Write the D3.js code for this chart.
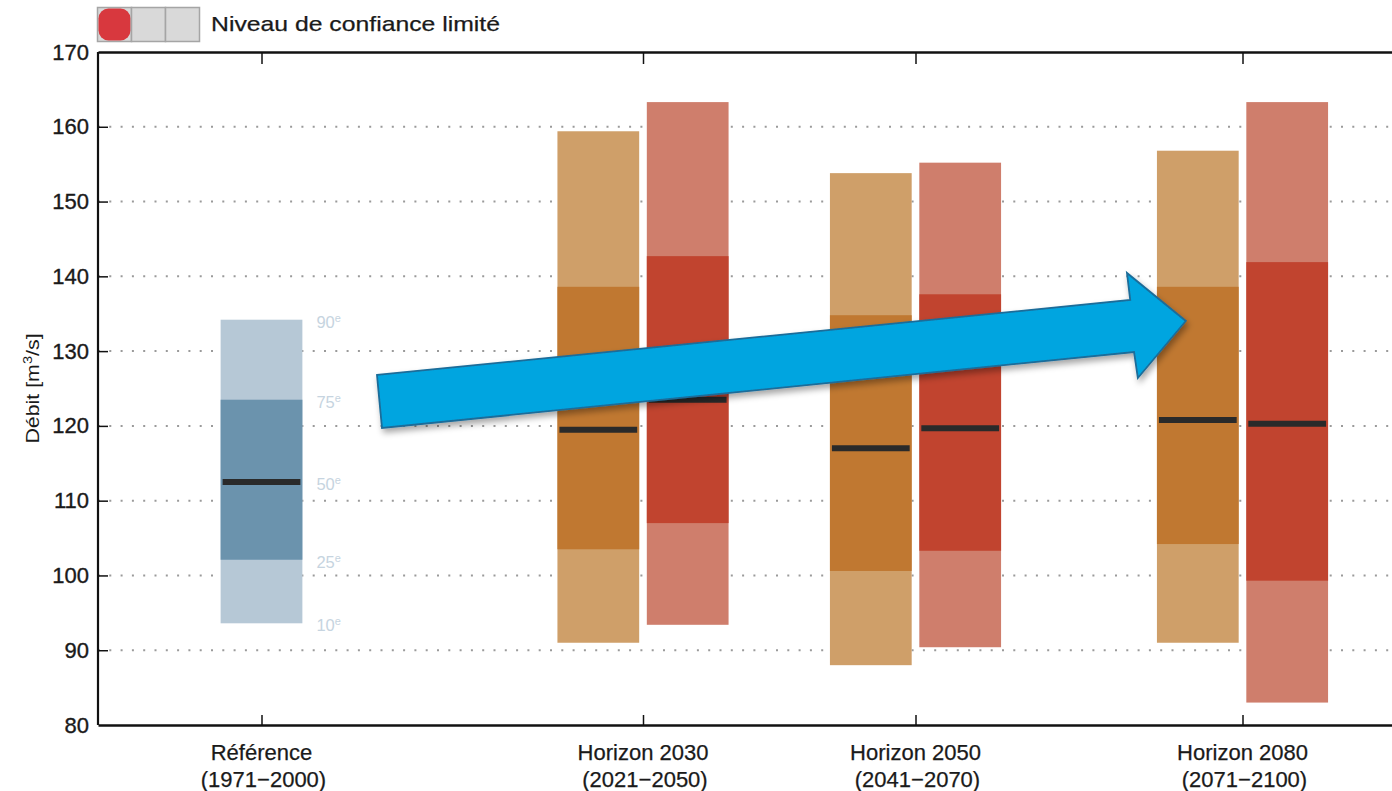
<!DOCTYPE html>
<html lang="fr">
<head>
<meta charset="utf-8">
<script src="https://cdn.jsdelivr.net/npm/d3@7"></script>
<style>
  html, body { margin: 0; padding: 0; background: #ffffff; }
  svg { display: block; font-family: "Liberation Sans", Arial, Helvetica, sans-serif; }
</style>
</head>
<body>
<svg id="chart" width="1392" height="791"></svg>
<script>
// Categories along the x axis and their positions (x units)
const categories = ["Référence", "Horizon 2030", "Horizon 2050", "Horizon 2080"];
const periods = ["(1971−2000)", "(2021−2050)", "(2041−2070)", "(2071−2100)"];
const positions = [3, 10, 15, 21];

// Percentiles: 10e, 25e, 50e, 75e, 90e (débit, m³/s)
const percentileNames = ["10", "25", "50", "75", "90"];
const reference = [93.6, 102.1, 112.5, 123.5, 134.2];
const scenarioOrange = [
  [91.0, 103.5, 119.5, 138.6, 159.4],
  [88.0, 100.6, 117.0, 134.8, 153.8],
  [91.0, 104.2, 120.8, 138.6, 156.8]
];
const scenarioRed = [
  [93.4, 107.0, 123.5, 142.7, 163.3],
  [90.4, 103.3, 119.7, 137.6, 155.2],
  [83.0, 99.3, 120.3, 141.9, 163.3]
];

// Axis ticks
const yTicks = [80, 90, 100, 110, 120, 130, 140, 150, 160, 170];
const gridTicks = [90, 100, 110, 120, 130, 140, 150, 160];

// Confidence indicator
const confidenceLabel = "Niveau de confiance limité";
const confidenceLevel = 1;
const confidenceSteps = 3;

// Trend arrow outline, in (x units, débit) coordinates
const trendArrow = [
  [5.119, 126.81], [18.94, 136.84], [18.88, 140.45], [19.96, 134.03],
  [19.08, 126.41], [19.01, 129.88], [5.211, 119.72]
];

const svg = d3.select("#chart");

const x = d3.scaleLinear().domain([0, 24]).range([98, 98 + 24 * 54.5]);
const y = d3.scaleLinear().domain([80, 170]).range([725, 52]);

const barHalf = 0.75;   // half bar width in x units
const pairOffset = 0.82; // offset of paired bars from the category tick
const textColor = "#1a1a1a";

const colors = {
  ref: { outer: "#b6c8d6", inner: "#6b93ad" },
  orange: { outer: "#cf9f69", inner: "#c07831" },
  red: { outer: "#cf7e6c", inner: "#c1442f" }
};

const defs = svg.append("defs");
const shadow = defs.append("filter").attr("id", "arrowShadow")
  .attr("x", "-10%").attr("y", "-30%").attr("width", "120%").attr("height", "180%");
shadow.append("feDropShadow")
  .attr("dx", 2).attr("dy", 4).attr("stdDeviation", 3)
  .attr("flood-color", "#000").attr("flood-opacity", 0.35);

// Dotted grid
svg.append("g").selectAll("line").data(gridTicks).join("line")
  .attr("x1", x(0)).attr("x2", x(24))
  .attr("y1", d => y(d)).attr("y2", d => y(d))
  .attr("stroke", "#9a9a9a").attr("stroke-width", 2)
  .attr("stroke-dasharray", "2,9.3").attr("stroke-linecap", "butt");

// Box for one distribution: outer (10-90), inner (25-75), median line
function drawBox(g, cx, p, palette) {
  const x0 = x(cx - barHalf), x1 = x(cx + barHalf);
  g.append("rect")
    .attr("x", x0).attr("width", x1 - x0)
    .attr("y", y(p[4])).attr("height", y(p[0]) - y(p[4]))
    .attr("fill", palette.outer);
  g.append("rect")
    .attr("x", x0).attr("width", x1 - x0)
    .attr("y", y(p[3])).attr("height", y(p[1]) - y(p[3]))
    .attr("fill", palette.inner);
  g.append("line")
    .attr("x1", x0 + 2).attr("x2", x1 - 2)
    .attr("y1", y(p[2])).attr("y2", y(p[2]))
    .attr("stroke", "#2a2a2a").attr("stroke-width", 6);
}

const bars = svg.append("g");
drawBox(bars, positions[0], reference, colors.ref);
scenarioOrange.forEach((p, i) => drawBox(bars, positions[i + 1] - pairOffset, p, colors.orange));
scenarioRed.forEach((p, i) => drawBox(bars, positions[i + 1] + pairOffset, p, colors.red));

// Percentile labels beside the reference box
const pl = svg.append("g").attr("fill", "#c6d4e0").attr("font-size", 16.5);
reference.forEach((v, i) => {
  const t = pl.append("text")
    .attr("x", x(positions[0] + barHalf) + 14)
    .attr("y", y(v) + 8);
  t.append("tspan").text(percentileNames[i]);
  t.append("tspan").attr("font-size", 11).attr("dy", -6).text("e");
});

// Axes
const axisColor = "#111";
const gy = svg.append("g").attr("transform", `translate(${x(0)},0)`)
  .call(d3.axisLeft(y).tickValues(yTicks).tickSize(-10).tickPadding(9).tickSizeOuter(0));
gy.selectAll("text").attr("font-size", 22).attr("fill", textColor)
  .attr("stroke", textColor).attr("stroke-width", 0.35)
  .attr("font-family", "'Liberation Sans', Arial, sans-serif");

const gb = svg.append("g").attr("transform", `translate(0,${y(80)})`)
  .call(d3.axisBottom(x).tickValues(positions).tickSize(-10).tickFormat("").tickSizeOuter(0));
const gt = svg.append("g").attr("transform", `translate(0,${y(170)})`)
  .call(d3.axisTop(x).tickValues(positions).tickSize(-12).tickFormat("").tickSizeOuter(0));
gy.select(".domain").remove();
[gy, gb, gt].forEach(g => {
  g.selectAll(".tick line").attr("stroke", axisColor).attr("stroke-width", 1.5);
  g.select(".domain").attr("stroke", axisColor).attr("stroke-width", 2.4);
});
gy.selectAll(".tick").filter(d => d === 80 || d === 170).select("line").remove();
svg.append("line")
  .attr("x1", x(0)).attr("x2", x(0)).attr("y1", y(170)).attr("y2", y(80))
  .attr("stroke", axisColor).attr("stroke-width", 2.2);

// Category labels (two lines)
const xl = svg.append("g").attr("font-size", 22).attr("fill", textColor)
  .attr("stroke", textColor).attr("stroke-width", 0.25).attr("text-anchor", "middle");
categories.forEach((c, i) => {
  xl.append("text").attr("x", x(positions[i])).attr("y", 760).text(c);
  xl.append("text").attr("x", x(positions[i]) + 2).attr("y", 787).text(periods[i]);
});

// Y axis title
const yt = svg.append("text")
  .attr("transform", `translate(39,${(y(170) + y(80)) / 2}) rotate(-90) scale(1.22,1)`)
  .attr("text-anchor", "middle").attr("font-size", 17.5).attr("fill", textColor);
yt.append("tspan").text("Débit [m");
yt.append("tspan").attr("font-size", 12).attr("dy", -7).text("3");
yt.append("tspan").attr("dy", 7).text("/s]");

// Confidence indicator
const leg = svg.append("g").attr("transform", "translate(97,7)");
const cell = 34;
for (let i = 0; i < confidenceSteps; i++) {
  leg.append("rect")
    .attr("x", i * cell + 0.5).attr("y", 0.5).attr("width", cell).attr("height", 34)
    .attr("fill", "#d9d9d9").attr("stroke", "#a5a5a5").attr("stroke-width", 1.5);
  if (i < confidenceLevel) {
    leg.append("rect")
      .attr("x", i * cell + 1.5).attr("y", 1.5).attr("width", cell - 2).attr("height", 32)
      .attr("rx", 10).attr("fill", "#d8383e");
  }
}
svg.append("text")
  .attr("x", 211).attr("y", 31)
  .attr("font-size", 21).attr("fill", textColor)
  .attr("stroke", textColor).attr("stroke-width", 0.25)
  .attr("textLength", 289).attr("lengthAdjust", "spacingAndGlyphs")
  .text(confidenceLabel);

// Trend arrow
svg.append("path")
  .attr("d", d3.line().x(d => x(d[0])).y(d => y(d[1]))(trendArrow) + "Z")
  .attr("fill", "#02a5e0").attr("stroke", "#1b6c99").attr("stroke-width", 1.8)
  .attr("stroke-linejoin", "miter")
  .attr("filter", "url(#arrowShadow)");
</script>
</body>
</html>
